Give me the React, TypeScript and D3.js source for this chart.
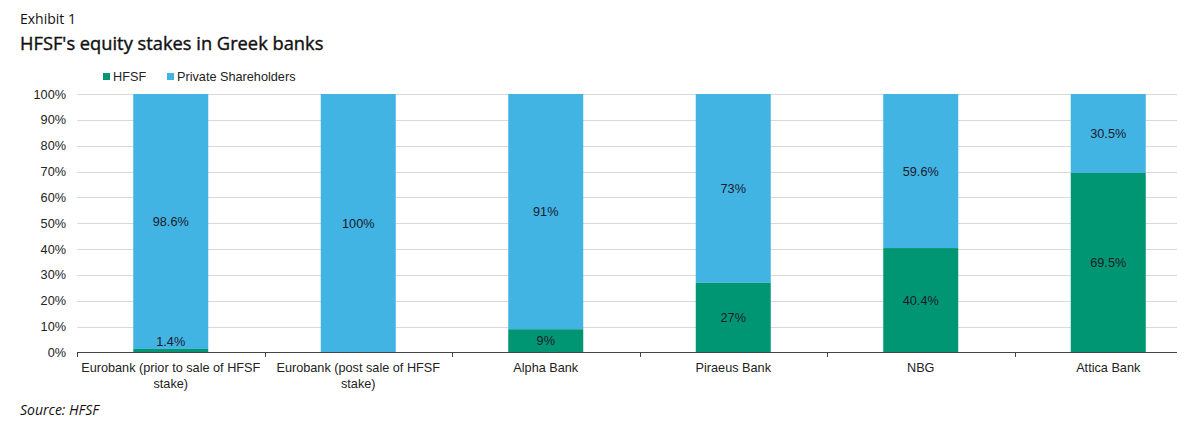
import React from "react";
import * as d3 from "d3";

const categories = [
  ["Eurobank (prior to sale of HFSF", "stake)"],
  ["Eurobank (post sale of HFSF", "stake)"],
  ["Alpha Bank"],
  ["Piraeus Bank"],
  ["NBG"],
  ["Attica Bank"],
];
const hfsf = [1.4, 0, 9, 27, 40.4, 69.5];
const privateSh = [98.6, 100, 91, 73, 59.6, 30.5];
const hfsfLabels = ["1.4%", "", "9%", "27%", "40.4%", "69.5%"];
const privateLabels = ["98.6%", "100%", "91%", "73%", "59.6%", "30.5%"];
const yTicks = [0, 10, 20, 30, 40, 50, 60, 70, 80, 90, 100];

const GREEN = "#009673";
const BLUE = "#42b4e4";
const FONT = "Arial, 'Liberation Sans', sans-serif";
const FS = 12.7;

export default function App() {
  const W = 1185, H = 442;
  const left = 77, right = 1177;
  const x = d3.scaleBand<number>().domain(d3.range(categories.length)).range([left, left + 6 * 187.5]).paddingInner(0.6).paddingOuter(0.3);
  const y = d3.scaleLinear().domain([0, 100]).range([352.5, 94]);
  const bw = x.bandwidth();

  return (
    <svg width={W} height={H} style={{ position: "absolute", left: 0, top: 0, background: "#fff" }}>
      <text x={20} y={24} fontFamily="'Open Sans', sans-serif" fontSize={14} fill="#111">Exhibit 1</text>
      <text x={20} y={50} fontFamily="'Open Sans', sans-serif" fontSize={18.3} fill="#111" stroke="#111" strokeWidth={0.4}>HFSF's equity stakes in Greek banks</text>

      {/* legend */}
      <rect x={103} y={73} width={7} height={7} fill={GREEN} />
      <text x={113} y={81} fontFamily={FONT} fontSize={FS} fill="#222">HFSF</text>
      <rect x={167} y={73} width={7} height={7} fill={BLUE} />
      <text x={177} y={81} fontFamily={FONT} fontSize={FS} fill="#222">Private Shareholders</text>

      {/* gridlines */}
      {yTicks.map((t) => (
        <g key={t}>
          {t > 0 && <line x1={left} x2={right} y1={Math.round(y(t)) + 0.5} y2={Math.round(y(t)) + 0.5} stroke="#d9d9d9" strokeWidth={1} />}
          <text x={66} y={y(t) + 4.5} textAnchor="end" fontFamily={FONT} fontSize={FS} fill="#222">{t}%</text>
        </g>
      ))}

      {/* bars */}
      {categories.map((_, i) => {
        const x0 = x(i)!;
        const h0 = y(0), h1 = y(hfsf[i]), h2 = y(hfsf[i] + privateSh[i]);
        const cx = x0 + bw / 2;
        const hMid = hfsf[i] < 5 ? y(0) - 11 : (h0 + h1) / 2;
        return (
          <g key={i}>
            <rect x={x0} y={h2} width={bw} height={h1 - h2} fill={BLUE} />
            {hfsf[i] > 0 && <rect x={x0} y={h1} width={bw} height={h0 - h1} fill={GREEN} />}
            <text x={cx} y={(h1 + h2) / 2 + 4.5} textAnchor="middle" fontFamily={FONT} fontSize={FS} fill="#1a1a2a">{privateLabels[i]}</text>
            {hfsfLabels[i] && <text x={cx} y={hMid + 4.5} textAnchor="middle" fontFamily={FONT} fontSize={FS} fill="#1a1a2a">{hfsfLabels[i]}</text>}
          </g>
        );
      })}

      {/* axis */}
      <line x1={left} x2={right} y1={352.5} y2={352.5} stroke="#444" strokeWidth={1} />
      {d3.range(categories.length).map((i) => {
        const tx = Math.round(left + i * 187.5) + 0.5;
        return <line key={i} x1={tx} x2={tx} y1={352.5} y2={357} stroke="#444" />;
      })}
      {categories.map((lines, i) => (
        <text key={i} textAnchor="middle" fontFamily={FONT} fontSize={FS} fill="#222">
          {lines.map((l, j) => (
            <tspan key={j} x={x(i)! + bw / 2} y={372 + j * 16}>{l}</tspan>
          ))}
        </text>
      ))}

      <text x={20} y={415} fontFamily="'Open Sans', sans-serif" fontStyle="italic" fontSize={14} fill="#111">Source: HFSF</text>
    </svg>
  );
}
